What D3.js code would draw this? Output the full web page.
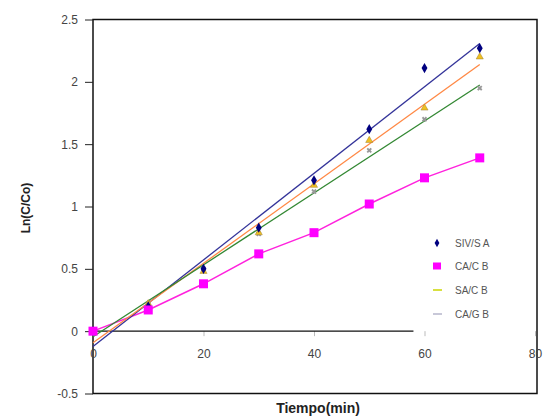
<!DOCTYPE html>
<html><head><meta charset="utf-8">
<script src="https://cdn.jsdelivr.net/npm/d3@7"></script>
<style>body{margin:0;background:#fff}svg{display:block}text{font-family:"Liberation Sans",Arial,sans-serif}</style>
</head><body>
<script>
const times = [0, 10, 20, 30, 40, 50, 60, 70];
const sivsA = [0, 0.20, 0.50, 0.83, 1.21, 1.62, 2.11, 2.27];
const cacB  = [0, 0.17, 0.38, 0.62, 0.79, 1.02, 1.23, 1.39];
const sacB  = [0, 0.22, 0.48, 0.79, 1.17, 1.53, 1.79, 2.20];
const cagB  = [0, 0.22, 0.50, 0.78, 1.12, 1.45, 1.70, 1.95];
const seriesNames = ["SIV/S A", "CA/C B", "SA/C B", "CA/G B"];
const xTicks = [0, 20, 40, 60, 80];
const yTicks = [-0.5, 0, 0.5, 1, 1.5, 2, 2.5];
const yTickLabels = ["-0.5", "0", "0.5", "1", "1.5", "2", "2.5"];

const W = 554, H = 418;
const svg = d3.select("body").append("svg").attr("width", W).attr("height", H);
const x = d3.scaleLinear().domain([0, 80]).range([93, 535]);
const y = d3.scaleLinear().domain([-0.5, 2.5]).range([393.5, 19.5]);

// frame
svg.append("rect").attr("x", 93).attr("y", 19.5).attr("width", 444).attr("height", 374)
  .attr("fill", "none").attr("stroke", "#111").attr("stroke-width", 1.5);

// y axis ticks/labels
const yAxis = d3.axisLeft(y).tickValues(yTicks).tickSize(8).tickFormat((d, i) => yTickLabels[i]);
const gy = svg.append("g").attr("transform", "translate(93,0)").call(yAxis);
gy.select(".domain").remove();
gy.selectAll("line").attr("stroke", "#222");
gy.selectAll("text").attr("font-size", 12).attr("fill", "#444").attr("x", -15);

// x axis at y=0
const xAxis = d3.axisBottom(x).tickValues(xTicks).tickSize(5).tickFormat(d3.format("d"));
const gx = svg.append("g").attr("transform", `translate(0,${y(0)})`).call(xAxis);
gx.select(".domain").remove();
gx.selectAll("line").attr("stroke", "#bbb");
gx.selectAll("text").attr("font-size", 12).attr("fill", "#444").attr("dy", "1.6em");
svg.append("line").attr("x1", x(0)).attr("x2", x(58)).attr("y1", y(0)).attr("y2", y(0))
  .attr("stroke", "#111").attr("stroke-width", 1.3);

function fit(vals) {
  const mx = d3.mean(times), my = d3.mean(vals);
  let sxy = 0, sxx = 0;
  times.forEach((t, i) => { sxy += (t - mx) * (vals[i] - my); sxx += (t - mx) ** 2; });
  const b = sxy / sxx; const a = my - b * mx;
  return [[0, a], [70, a + b * 70]];
}
const line = d3.line().x(d => x(d[0])).y(d => y(d[1]));

// pink connected line
svg.append("path").datum(times.map((t, i) => [t, cacB[i]])).attr("d", line)
  .attr("fill", "none").attr("stroke", "#ff22dd").attr("stroke-width", 1.5);

// trendlines
[[sivsA, "#333399"], [sacB, "#ff8844"], [cagB, "#338833"]].forEach(([v, c]) => {
  svg.append("path").datum(fit(v)).attr("d", line).attr("fill", "none")
    .attr("stroke", c).attr("stroke-width", 1.3);
});

// markers
const pts = (v) => times.map((t, i) => [t, v[i]]);
svg.selectAll(".cag").data(pts(cagB)).enter().append("path")
  .attr("d", d3.symbol(d3.symbolCross, 18)()).attr("transform", d => `translate(${x(d[0])},${y(d[1])}) rotate(45)`)
  .attr("fill", "#999");
svg.selectAll(".sac").data(pts(sacB)).enter().append("path")
  .attr("d", d3.symbol(d3.symbolTriangle, 22)()).attr("transform", d => `translate(${x(d[0])},${y(d[1])})`)
  .attr("fill", "#f0c020").attr("stroke", "#a08030").attr("stroke-width", 0.5);
svg.selectAll(".sivs").data(pts(sivsA)).enter().append("path")
  .attr("d", d3.symbol(d3.symbolDiamond, 30)()).attr("transform", d => `translate(${x(d[0])},${y(d[1])})`)
  .attr("fill", "#000080");
svg.selectAll(".cac").data(pts(cacB)).enter().append("rect")
  .attr("x", d => x(d[0]) - 4.5).attr("y", d => y(d[1]) - 4.5).attr("width", 9).attr("height", 9)
  .attr("fill", "#ff00ff");

// legend
svg.append("rect").attr("x", 413).attr("y", 226).attr("width", 122).attr("height", 104).attr("fill", "#fff");
const legY = [243, 266, 290, 314];
const lg = svg.append("g");
lg.append("path").attr("d", d3.symbol(d3.symbolDiamond, 20)()).attr("transform", `translate(437,${legY[0]})`).attr("fill", "#000080");
lg.append("rect").attr("x", 433).attr("y", legY[1] - 3.5).attr("width", 8).attr("height", 7).attr("fill", "#ff00ff");
lg.append("line").attr("x1", 433).attr("x2", 442).attr("y1", legY[2]).attr("y2", legY[2]).attr("stroke", "#d8e040").attr("stroke-width", 2);
lg.append("line").attr("x1", 433).attr("x2", 442).attr("y1", legY[3]).attr("y2", legY[3]).attr("stroke", "#c8c8d8").attr("stroke-width", 2);
seriesNames.forEach((n, i) => {
  lg.append("text").attr("x", 455).attr("y", legY[i] + 3.5).attr("font-size", 10).attr("fill", "#555").text(n);
});

// titles
svg.append("text").attr("x", 318).attr("y", 413).attr("text-anchor", "middle")
  .attr("font-size", 14).attr("font-weight", "bold").attr("fill", "#222").text("Tiempo(min)");
svg.append("text").attr("transform", "translate(30,208) rotate(-90)").attr("text-anchor", "middle")
  .attr("font-size", 12).attr("font-weight", "bold").attr("fill", "#222").text("Ln(C/Co)");
</script>
</body></html>
